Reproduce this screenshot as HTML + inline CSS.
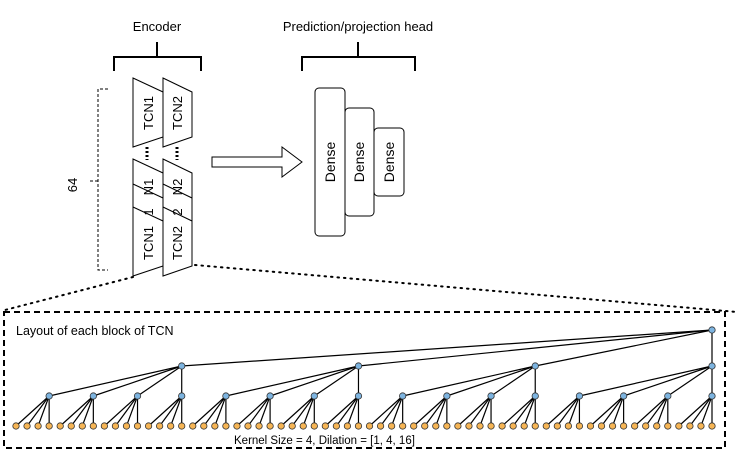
<!DOCTYPE html>
<html><head><meta charset="utf-8"><style>
body{margin:0;background:#fff;}
svg{display:block;font-family:"Liberation Sans",Arial,sans-serif;}
</style></head><body>
<svg id="s" width="748" height="457" viewBox="0 0 748 457" xmlns="http://www.w3.org/2000/svg">
<g fill="none" stroke="#000">
<path d="M114 71V57H201V71M157 57V42" stroke-width="2"/>
<path d="M302 71V57H415V71M358 57V42" stroke-width="2"/>
<path d="M108 89H98V270H108M98 181H88" stroke-dasharray="3,2"/>
<path d="M133 78L163 92V137L133 147Z" fill="#fff"/>
<path d="M163 78L192 92V137L163 147Z" fill="#fff"/>
<path d="M147 147V160M177 147V160" stroke-width="3" stroke-dasharray="2,2"/>
<path d="M133 159L163 173V218L133 228Z" fill="#fff"/>
<path d="M163 159L192 173V218L163 228Z" fill="#fff"/>
<path d="M133 184L163 198V243L133 253Z" fill="#fff"/>
<path d="M163 184L192 198V243L163 253Z" fill="#fff"/>
<path d="M133 207L163 221V266L133 276Z" fill="#fff"/>
<path d="M163 207L192 221V266L163 276Z" fill="#fff"/>
<path d="M212 157H282V147L302 162L282 177V167H212Z" fill="#fff"/>
<rect x="315" y="88" width="30" height="148" rx="4" fill="#fff"/>
<rect x="345" y="108" width="29" height="108" rx="4" fill="#fff"/>
<rect x="374" y="128" width="30" height="68" rx="4" fill="#fff"/>
<path d="M133 277L5 310M195 265L737 312" stroke-width="2" stroke-dasharray="1.5,5" stroke-linecap="round"/>
<rect x="4" y="312" width="721" height="136" stroke-width="2" stroke-dasharray="6,4"/>
</g>
<g font-size="13" fill="#000">
<text x="157" y="31" text-anchor="middle">Encoder</text>
<text x="358" y="31" text-anchor="middle">Prediction/projection head</text>
<text transform="translate(77,185) rotate(-90)" text-anchor="middle">64</text>
<text transform="translate(153,113) rotate(-90)" text-anchor="middle">TCN1</text>
<text transform="translate(182,113) rotate(-90)" text-anchor="middle">TCN2</text>
<text transform="translate(153,243) rotate(-90)" text-anchor="middle">TCN1</text>
<text transform="translate(182,243) rotate(-90)" text-anchor="middle">TCN2</text>
<text transform="translate(153,187) rotate(-90)" text-anchor="middle">N1</text>
<text transform="translate(182,187) rotate(-90)" text-anchor="middle">N2</text>
<text transform="translate(153,212) rotate(-90)" text-anchor="middle">1</text>
<text transform="translate(182,212) rotate(-90)" text-anchor="middle">2</text>
<text transform="translate(335,162) rotate(-90)" text-anchor="middle" font-size="14">Dense</text>
<text transform="translate(364,162) rotate(-90)" text-anchor="middle" font-size="14">Dense</text>
<text transform="translate(394,162) rotate(-90)" text-anchor="middle" font-size="14">Dense</text>
<text x="16" y="335" font-size="12.5">Layout of each block of TCN</text>
<text x="234" y="444" font-size="11.5">Kernel Size = 4, Dilation = [1, 4, 16]</text>
</g>
<g id="tree"></g>
</svg>
<script>
var g=document.getElementById("tree");
function X(i){return 16+i*696/63;}
var L="",C="";
function line(x1,y1,x2,y2){L+='<line x1="'+x1+'" y1="'+y1+'" x2="'+x2+'" y2="'+y2+'" stroke="#000" stroke-width="1.2"/>';}
function circ(x,y,f){C+='<circle cx="'+x+'" cy="'+y+'" r="3.2" fill="'+f+'" stroke="#333" stroke-width="0.8"/>';}
for(var i=0;i<64;i++){var p=Math.floor(i/4)*4+3;line(X(i),426,X(p),396);circ(X(i),426,"#f6b555");}
for(var j=3;j<64;j+=4){var p=Math.floor(j/16)*16+15;line(X(j),396,X(p),366);circ(X(j),396,"#7db4e0");}
for(var k=15;k<64;k+=16){line(X(k),366,X(63),330);circ(X(k),366,"#7db4e0");}
circ(X(63),330,"#7db4e0");
g.innerHTML=L+C;
</script>
</body></html>
